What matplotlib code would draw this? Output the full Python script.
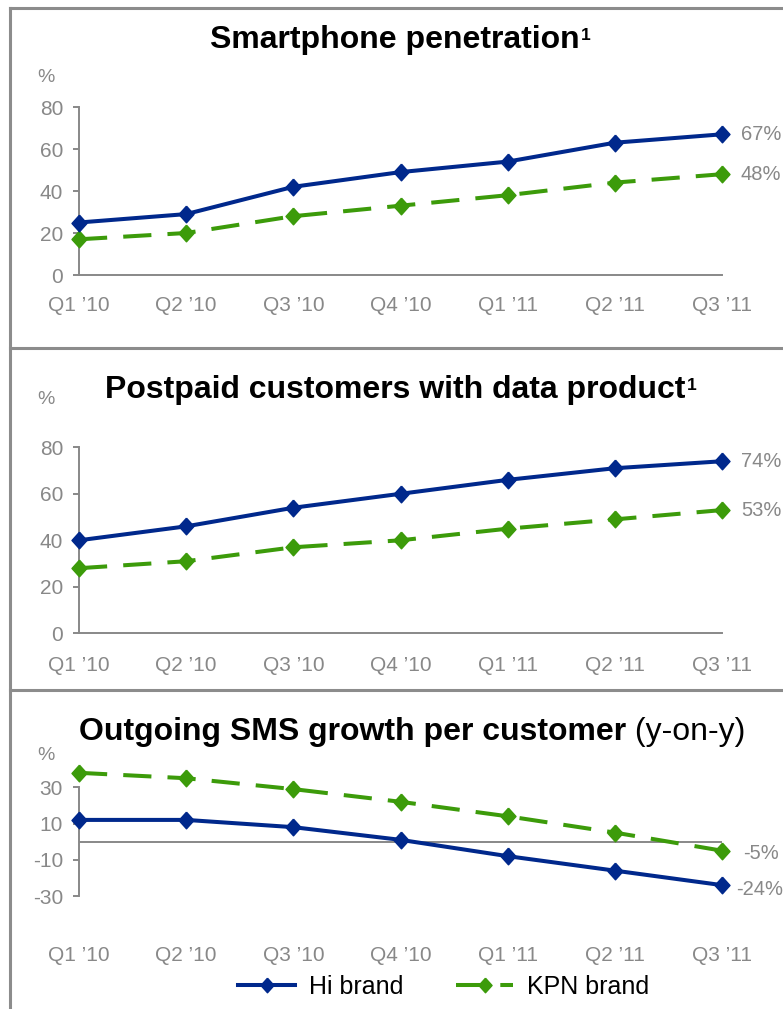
import matplotlib
matplotlib.use('Agg')
import matplotlib.pyplot as plt
from matplotlib.lines import Line2D

plt.rcParams['font.family'] = ['Liberation Sans', 'DejaVu Sans']

quarters = ["Q1 ’10", "Q2 ’10", "Q3 ’10", "Q4 ’10", "Q1 ’11", "Q2 ’11", "Q3 ’11"]
series_names = ["Hi brand", "KPN brand"]

smart_hi = [25, 29, 42, 49, 54, 63, 67]
smart_kpn = [17, 20, 28, 33, 38, 44, 48]

data_hi = [40, 46, 54, 60, 66, 71, 74]
data_kpn = [28, 31, 37, 40, 45, 49, 53]

sms_hi = [12, 12, 8, 1, -8, -16, -24]
sms_kpn = [38, 35, 29, 22, 14, 5, -5]

BLUE = '#00288c'
GREEN = '#3c9b0a'
GRAY = '#888888'
FRAME = '#8c8c8c'
W, H = 783, 1009

diamond = [(0, 1), (0.9, 0), (0, -1), (-0.9, 0), (0, 1)]
LW = 2.9
MS = 12
DASH = (7, 4)

fig = plt.figure(figsize=(W / 100, H / 100), dpi=100)


def px_axes(left, top, right, bottom):
    # place an axes from pixel coords (origin top-left)
    return fig.add_axes([left / W, 1 - bottom / H, (right - left) / W, (bottom - top) / H])


def draw_panel(ax, hi, kpn, ylim, yticks, xpad, bottom_spine=True):
    x = range(len(quarters))
    ax.plot(x, hi, color=BLUE, lw=LW, marker=diamond, ms=MS, clip_on=False, zorder=4)
    ax.plot(x, kpn, color=GREEN, lw=LW, dashes=DASH, marker=diamond, ms=MS,
            clip_on=False, zorder=3)
    ax.set_xlim(0, 6)
    ax.set_ylim(*ylim)
    ax.set_yticks(yticks)
    ax.set_yticklabels([str(v) for v in yticks])
    ax.set_xticks(list(x))
    ax.set_xticklabels(quarters)
    for s in ['top', 'right']:
        ax.spines[s].set_visible(False)
    for s in ['left', 'bottom']:
        ax.spines[s].set_color(GRAY)
        ax.spines[s].set_linewidth(1.4)
    if not bottom_spine:
        ax.spines['bottom'].set_visible(False)
        ax.axhline(0, color=GRAY, lw=1.4, zorder=1)
    ax.tick_params(axis='y', length=4.5, width=1.4, color=GRAY, labelcolor=GRAY,
                   labelsize=15, pad=7)
    ax.tick_params(axis='x', length=0, labelcolor=GRAY, labelsize=15, pad=xpad)
    ax.patch.set_visible(False)
    return ax


ax1 = draw_panel(px_axes(79, 107, 722, 275), smart_hi, smart_kpn, (0, 80),
                 [0, 20, 40, 60, 80], 14.8)
ax2 = draw_panel(px_axes(79, 447.3, 722, 633.3), data_hi, data_kpn, (0, 80),
                 [0, 20, 40, 60, 80], 16)
ax3 = draw_panel(px_axes(79, 787.3, 722, 896), sms_hi, sms_kpn, (-30, 30),
                 [-30, -10, 10, 30], 36, bottom_spine=False)

# end-of-line labels
for ax, hi, kpn, offs in [(ax1, smart_hi, smart_kpn, [(13.5, -0.5), (13.5, -0.5)]),
                          (ax2, data_hi, data_kpn, [(13.5, -0.5), (13.5, -0.5)]),
                          (ax3, sms_hi, sms_kpn, [(10, -3), (15.5, -2)])]:
    for vals, (dx, dy) in zip([hi, kpn], offs):
        ax.annotate(f"{vals[-1]}%", xy=(6, vals[-1]), xytext=(dx, dy),
                    textcoords='offset points', ha='left', va='center',
                    color=GRAY, fontsize=14.5, annotation_clip=False)

# percent unit labels
for yy in [77, 400, 755]:
    fig.text(46 / W, 1 - yy / H, '%', ha='center', va='center', color=GRAY, fontsize=14)

# titles
t1 = fig.text(395 / W, 1 - 48.3 / H, 'Smartphone penetration', ha='center', va='baseline',
              fontsize=23, weight='bold')
t2 = fig.text(395 / W, 1 - 398 / H, 'Postpaid customers with data product', ha='center',
              va='baseline', fontsize=23, weight='bold')
for t in [t1, t2]:
    fig.add_artist(plt.Annotation('1', xy=(1, 1), xycoords=t, xytext=(1, -2),
                                  textcoords='offset points', fontsize=12.5, weight='bold',
                                  va='top', ha='left'))

t3a = fig.text(0, 1 - 740 / H, 'Outgoing SMS growth per customer', ha='left', va='baseline',
               fontsize=23, weight='bold')
t3b = fig.text(0, 1 - 740 / H, ' (y-on-y)', ha='left', va='baseline', fontsize=23)
fig.canvas.draw()
r = fig.canvas.get_renderer()
wa = t3a.get_window_extent(r).width
wb = t3b.get_window_extent(r).width
x0 = 412.5 - (wa + wb) / 2
t3a.set_x(x0 / W)
t3b.set_x((x0 + wa) / W)

# legend
handles = [Line2D([], [], color=BLUE, lw=LW, marker=diamond, ms=10.5),
           Line2D([], [], color=GREEN, lw=LW, dashes=DASH, marker=diamond, ms=10.5)]
fig.legend(handles, series_names, loc='center', bbox_to_anchor=(443.5 / W, 1 - 987 / H),
           ncol=2, frameon=False, fontsize=18, handlelength=2.3, columnspacing=2.1,
           handletextpad=0.55, borderpad=0.2)

# panel frame
fkw = dict(transform=fig.transFigure, color=FRAME, lw=2.2)
fig.add_artist(Line2D([9.5 / W, 1], [1 - 8 / H] * 2, **fkw))
fig.add_artist(Line2D([9.5 / W, 1], [1 - 348 / H] * 2, **fkw))
fig.add_artist(Line2D([9.5 / W, 1], [1 - 690 / H] * 2, **fkw))
fig.add_artist(Line2D([9.5 / W] * 2, [0, 1 - 8 / H], **fkw))

fig.savefig('out.png', dpi=100)
